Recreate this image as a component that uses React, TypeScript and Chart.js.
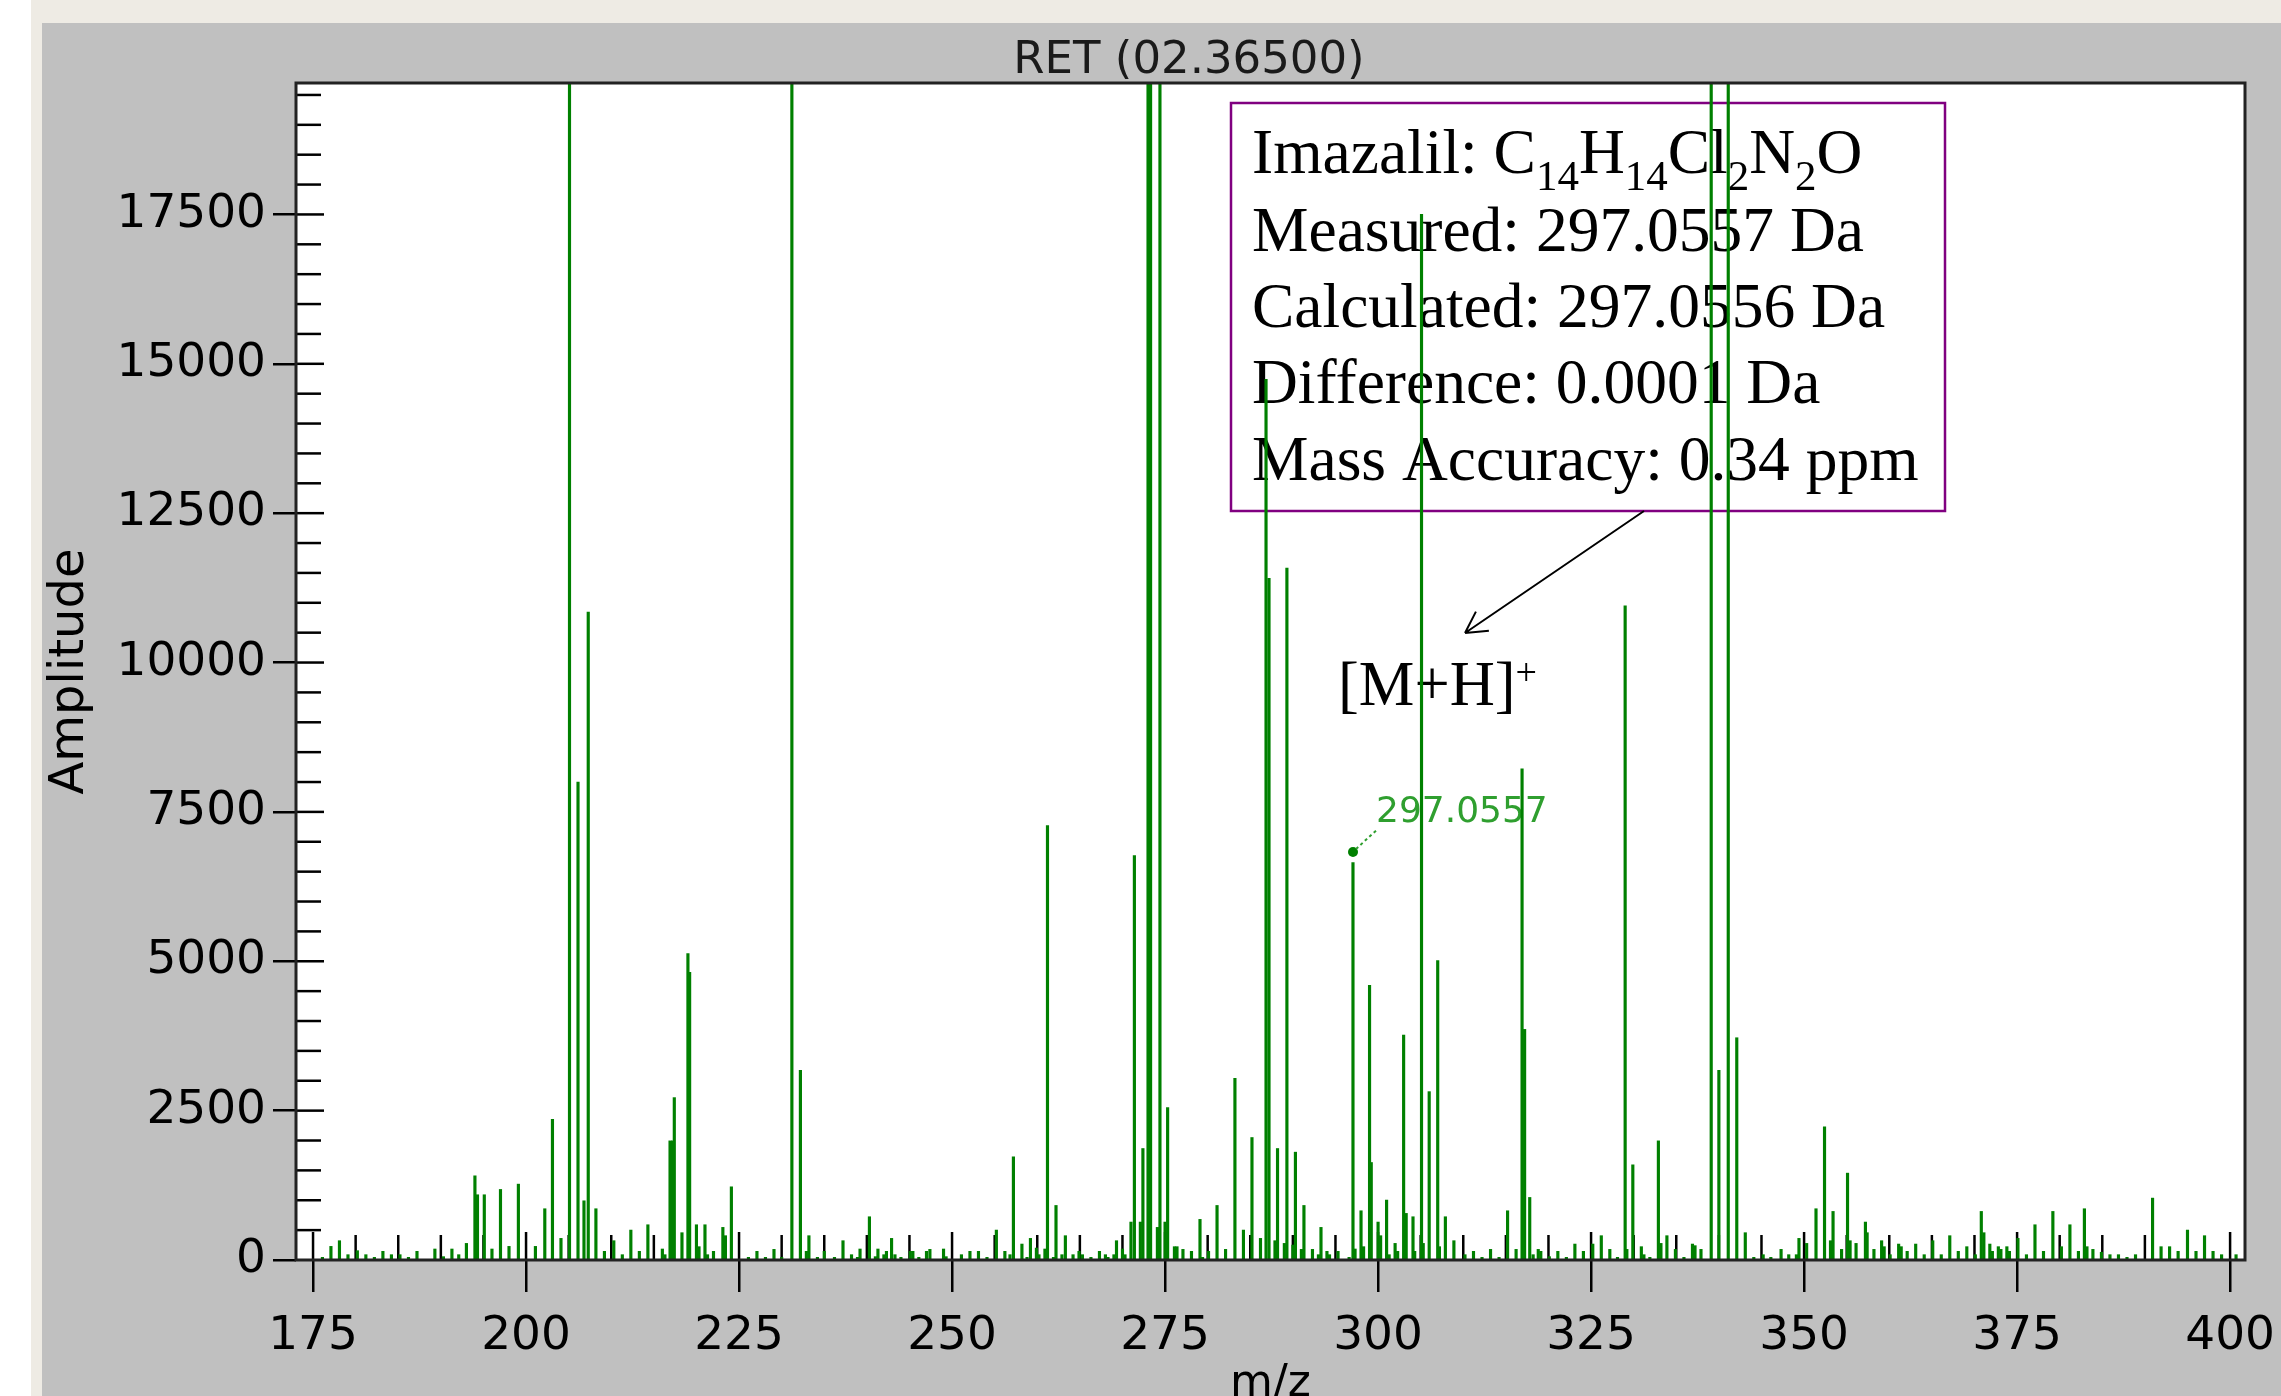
import React, { useEffect, useRef } from 'react';
import { Chart, registerables } from 'chart.js';

Chart.register(...registerables);

// ---- data ----
const peakMz = [
  176.1, 177.1, 178.1, 179.1, 180.2, 181.2, 182.2, 183.2, 184.2, 185.2, 186.2, 187.2, 189.3, 190.3, 191.3, 192.1,
  193.0, 194.0, 194.3, 195.1, 196.0, 197.0, 198.0, 199.1, 201.1, 202.2, 203.1, 204.1, 205.1, 206.1, 206.8, 207.3,
  208.2, 209.2, 210.3, 211.3, 212.3, 213.3, 214.3, 216.0, 216.3, 216.9, 217.2, 217.4, 218.3, 219.0, 219.2, 220.0,
  220.3, 221.0, 221.3, 222.0, 223.1, 223.4, 224.1, 226.1, 227.1, 228.1, 229.1, 230.0, 231.2,
  232.2, 232.9, 233.2, 234.2, 235.0, 236.2, 237.2, 238.2, 238.9, 239.2, 240.3, 241.0, 241.3, 242.0, 242.3, 242.9,
  243.3, 244.0, 245.1, 245.4, 246.1, 247.0, 247.4, 249.0, 249.3, 251.1, 252.1, 253.1, 254.1, 255.2, 256.2, 256.8,
  257.2, 258.2, 258.8, 259.2, 259.9, 260.2, 260.9, 261.2, 261.9, 262.2, 262.9, 263.3, 264.2, 264.9, 265.3, 266.3,
  267.3, 268.0, 268.3, 269.0, 269.3, 270.0, 270.3, 271.0, 271.4, 272.1, 272.4, 273.0, 273.3, 274.1, 274.4, 275.0,
  275.3, 276.1, 276.4, 277.1, 278.1, 279.1, 279.4, 280.1, 281.1, 282.1, 283.2, 284.2, 285.2, 286.2, 286.85, 287.2,
  287.9, 288.2, 289.0, 289.3,
  290.0, 290.3, 291.0, 291.3, 292.3, 293.0, 293.3, 294.0, 294.3, 295.3, 296.6, 297.0557, 297.3, 298.0, 298.3, 299.0,
  299.2, 300.0, 300.3, 301.0, 301.3, 302.0, 302.3, 303.0, 303.3, 304.1, 304.3, 305.1, 305.3, 306.0, 307.0, 307.2,
  307.9, 308.9, 310.2, 311.2, 312.2, 313.2, 314.2, 315.2, 316.2, 316.9, 317.2, 317.8, 318.2, 318.8, 319.1, 320.1,
  321.1, 322.1, 323.1, 324.1, 325.2, 326.2, 327.2, 328.1, 329.0, 329.2, 329.9, 330.9, 331.2, 331.9, 332.9, 333.2,
  333.9, 334.9, 335.9, 336.9, 337.2, 337.9, 339.1, 340.0, 341.1, 342.1, 343.1, 344.1, 345.2,
  346.1, 347.3, 348.2, 349.1, 349.4, 350.3, 351.4, 352.4, 353.1, 353.4, 354.4, 355.1, 355.4, 356.1, 357.2, 357.4,
  358.2, 359.1, 359.4, 360.1, 361.1, 361.4, 362.1, 363.1, 364.1, 365.1, 366.1, 367.1, 368.1, 369.1, 370.1, 370.8,
  371.1, 371.8, 372.1, 372.8, 373.1, 373.8, 374.1, 375.1, 376.1, 377.1, 378.1, 379.2, 380.2, 381.2, 382.2, 382.9,
  383.2, 383.9, 384.9, 385.9, 386.9, 387.9, 388.9, 390.9, 391.9, 392.9, 393.9, 395.0, 396.0, 397.0, 398.0, 399.0,
  400.7,
];

const peakAmp = [
  45, 228, 323, 89, 156, 89, 45, 145, 89, 89, 45, 145, 184, 56, 184, 89,
  278, 1409, 1092, 1092, 184, 1181, 228, 1270, 228, 858, 2356, 362, 26000, 8000, 991, 10845,
  858, 145, 323, 89, 501, 145, 590, 184, 89, 1994, 1994, 2718, 457, 5130, 4815, 590,
  223, 590, 89, 145, 546, 407, 1225, 45, 145, 45, 178, 45, 26000,
  3175, 145, 407, 45, 145, 45, 323, 89, 45, 184, 724, 56, 184, 89, 145, 362,
  89, 45, 145, 145, 45, 145, 178, 184, 56, 89, 145, 145, 45, 501, 145, 89,
  1727, 267, 45, 362, 200, 89, 184, 7270, 45, 913, 89, 407, 89, 145, 89, 45,
  145, 89, 45, 89, 323, 184, 89, 635, 6770, 635, 1866, 26000, 26000, 546, 26000, 635,
  2551, 223, 223, 178, 145, 680, 45, 145, 913, 178, 3041, 501, 2050, 362, 14740, 11410,
  323, 1866, 278, 11580,
  250, 1805, 178, 913, 178, 89, 546, 145, 89, 145, 45, 6650, 184, 824, 223, 4596,
  1632, 635, 407, 1003, 89, 278, 145, 3765, 780, 724, 145, 17500, 278, 2818, 5010, 223,
  724, 323, 89, 145, 45, 178, 45, 824, 178, 8220, 3860, 1047, 89, 178, 145, 56,
  145, 45, 267, 145, 267, 407, 178, 45, 10950, 178, 1593, 223, 89, 45, 1994, 278,
  407, 178, 45, 267, 240, 178, 26000, 3175, 26000, 3720, 457, 45, 89,
  45, 178, 89, 89, 362, 278, 858, 2228, 323, 813, 178, 1454, 323, 278, 635, 457,
  178, 323, 223, 89, 267, 223, 145, 267, 89, 323, 89, 407, 145, 223, 89, 813,
  457, 267, 145, 223, 178, 223, 145, 362, 89, 590, 145, 813, 223, 590, 145, 858,
  223, 178, 130, 89, 89, 45, 89, 1036, 223, 223, 145, 501, 145, 407, 145, 89,
  89,
];

const xTicks = [175, 200, 225, 250, 275, 300, 325, 350, 375, 400];
const yTicks = [0, 2500, 5000, 7500, 10000, 12500, 15000, 17500];
const xMinorStep = 5;
const yMinorStep = 500;
const xRange = [173.0, 401.75];
const yRange = [0, 19700];

const titleText = 'RET (02.36500)';
const xTitle = 'm/z';
const yTitle = 'Amplitude';
const labeledPeakMz = 297.0557;
const labeledPeakMarker = 6830;
const labeledPeakText = '297.0557';

type Part = { t: string; sub?: boolean; sup?: boolean };
const boxLines: Part[][] = [
  [{ t: 'Imazalil: C' }, { t: '14', sub: true }, { t: 'H' }, { t: '14', sub: true }, { t: 'Cl' }, { t: '2', sub: true }, { t: 'N' }, { t: '2', sub: true }, { t: 'O' }],
  [{ t: 'Measured: 297.0557 Da' }],
  [{ t: 'Calculated: 297.0556 Da' }],
  [{ t: 'Difference: 0.0001 Da' }],
  [{ t: 'Mass Accuracy: 0.34 ppm' }],
];
const ionLabel: Part[] = [{ t: '[M+H]' }, { t: '+', sup: true }];

const SANS = "'DejaVu Sans', sans-serif";
const SERIF = "'Liberation Serif', 'Times New Roman', serif";

function drawParts(ctx: CanvasRenderingContext2D, parts: Part[], x: number, y: number, size: number, small: number) {
  let cx = x;
  for (const p of parts) {
    const s = p.sub || p.sup ? small : size;
    ctx.font = `${s}px ${SERIF}`;
    const dy = p.sub ? 17 : p.sup ? -20 : 0;
    ctx.fillText(p.t, cx, y + dy);
    cx += ctx.measureText(p.t).width;
  }
}

const decorPlugin = {
  id: 'decor',
  beforeDraw(chart: any) {
    const { ctx, width, height, chartArea: a } = chart;
    ctx.save();
    ctx.fillStyle = '#ffffff';
    ctx.fillRect(0, 0, width, height);
    ctx.fillStyle = '#EEEBE4';
    ctx.fillRect(31, 0, width - 31, height);
    ctx.fillStyle = '#C0C0C0';
    ctx.fillRect(42, 23, width - 42, height - 23);
    ctx.fillStyle = '#ffffff';
    ctx.fillRect(a.left, a.top, a.right - a.left, a.bottom - a.top);
    // title
    ctx.fillStyle = '#1a1a1a';
    ctx.font = `45px ${SANS}`;
    ctx.textAlign = 'center';
    ctx.textBaseline = 'alphabetic';
    ctx.fillText(titleText, 1189, 73);
    ctx.restore();
  },
  beforeDatasetsDraw(chart: any) {
    const { ctx, chartArea: a, scales } = chart;
    const xs = scales.x, ys = scales.y;
    ctx.save();
    ctx.strokeStyle = '#000';
    ctx.lineWidth = 2.5;
    // inner ticks x
    for (let v = Math.ceil(xRange[0] / xMinorStep) * xMinorStep; v <= xRange[1]; v += xMinorStep) {
      const px = xs.getPixelForValue(v);
      const len = xTicks.includes(v) ? 28 : 25;
      ctx.beginPath();
      ctx.moveTo(px, a.bottom);
      ctx.lineTo(px, a.bottom - len);
      ctx.stroke();
    }
    for (let v = yMinorStep; v <= yRange[1]; v += yMinorStep) {
      const py = ys.getPixelForValue(v);
      const len = yTicks.includes(v) ? 28 : 25;
      ctx.beginPath();
      ctx.moveTo(a.left, py);
      ctx.lineTo(a.left + len, py);
      ctx.stroke();
    }
    // annotation box
    ctx.strokeStyle = '#800080';
    ctx.lineWidth = 2.5;
    ctx.strokeRect(1231, 103, 714, 408);
    ctx.fillStyle = '#000';
    ctx.textAlign = 'left';
    ctx.textBaseline = 'alphabetic';
    const baselines = [173, 251, 327, 403, 480];
    boxLines.forEach((ln, i) => drawParts(ctx, ln, 1252, baselines[i], 63.5, 43));
    // arrow
    ctx.strokeStyle = '#000';
    ctx.lineWidth = 2;
    const sx = 1644, sy = 511, tx = 1465, ty = 633;
    ctx.beginPath();
    ctx.moveTo(sx, sy);
    ctx.lineTo(tx, ty);
    const ang = Math.atan2(sy - ty, sx - tx);
    for (const d of [-0.5, 0.5]) {
      ctx.moveTo(tx, ty);
      ctx.lineTo(tx + 24 * Math.cos(ang + d), ty + 24 * Math.sin(ang + d));
    }
    ctx.stroke();
    drawParts(ctx, ionLabel, 1338, 705, 62.5, 38);
    // peak label
    const dx = xs.getPixelForValue(labeledPeakMz);
    const dy = ys.getPixelForValue(labeledPeakMarker);
    ctx.fillStyle = '#008000';
    ctx.beginPath();
    ctx.arc(dx, dy, 5, 0, Math.PI * 2);
    ctx.fill();
    ctx.strokeStyle = '#2F9F2F';
    ctx.lineWidth = 2;
    ctx.setLineDash([3, 3]);
    ctx.beginPath();
    ctx.moveTo(dx + 3, dy - 3);
    ctx.lineTo(dx + 25, dy - 23);
    ctx.stroke();
    ctx.setLineDash([]);
    ctx.fillStyle = '#2F9F2F';
    ctx.font = `36px ${SANS}`;
    ctx.fillText(labeledPeakText, dx + 23, dy - 30);
    ctx.restore();
  },
  afterDatasetsDraw(chart: any) {
    const { ctx, chartArea: a } = chart;
    ctx.save();
    ctx.strokeStyle = '#222';
    ctx.lineWidth = 3;
    ctx.strokeRect(a.left, a.top, a.right - a.left, a.bottom - a.top);
    ctx.restore();
  },
};

export default function App() {
  const ref = useRef<HTMLCanvasElement | null>(null);
  useEffect(() => {
    document.body.style.margin = '0';
    const canvas = ref.current;
    if (!canvas) return;
    const chart = new Chart(canvas, {
      type: 'bar',
      data: {
        datasets: [
          {
            data: peakMz.map((m, i) => ({ x: m, y: peakAmp[i] })),
            backgroundColor: '#008000',
            borderWidth: 0,
            barThickness: 2.5,
          } as any,
        ],
      },
      options: {
        responsive: false,
        animation: false,
        devicePixelRatio: 1,
        layout: { padding: { left: 0, top: 83, right: 36, bottom: 0 } },
        plugins: { legend: { display: false }, tooltip: { enabled: false }, title: { display: false } },
        scales: {
          x: {
            type: 'linear',
            min: xRange[0],
            max: xRange[1],
            offset: false,
            grid: { display: true, offset: false, drawOnChartArea: false, drawTicks: true, tickLength: 32, color: '#000', lineWidth: 2.5 },
            border: { display: false },
            ticks: { font: { family: SANS, size: 47 }, color: '#000', padding: 17, maxRotation: 0, autoSkip: false, callback: (v: any) => String(v) },
            title: { display: true, text: xTitle, color: '#000', font: { family: SANS, size: 44, lineHeight: 0.5 }, padding: 0 },
            afterBuildTicks: (s: any) => { s.ticks = xTicks.map((v) => ({ value: v })); },
            afterFit: (s: any) => { s.height = 136; s.paddingLeft = 0; s.paddingRight = 0; },
          } as any,
          y: {
            type: 'linear',
            min: yRange[0],
            max: yRange[1],
            grid: { display: true, drawOnChartArea: false, drawTicks: true, tickLength: 23, color: '#000', lineWidth: 2.5 },
            border: { display: false },
            ticks: { font: { family: SANS, size: 47 }, color: '#000', padding: 7, autoSkip: false, callback: (v: any) => String(v) },
            title: { display: true, text: yTitle, color: '#000', font: { family: SANS, size: 48 }, padding: { top: 42, bottom: 0 } },
            afterBuildTicks: (s: any) => { s.ticks = yTicks.map((v) => ({ value: v })); },
            afterFit: (s: any) => { s.width = 296; s.paddingTop = 0; s.paddingBottom = 0; },
          } as any,
        },
      },
      plugins: [decorPlugin],
    });
    return () => chart.destroy();
  }, []);
  return <canvas ref={ref} width={2281} height={1396} style={{ display: 'block', width: 2281, height: 1396 }} />;
}
